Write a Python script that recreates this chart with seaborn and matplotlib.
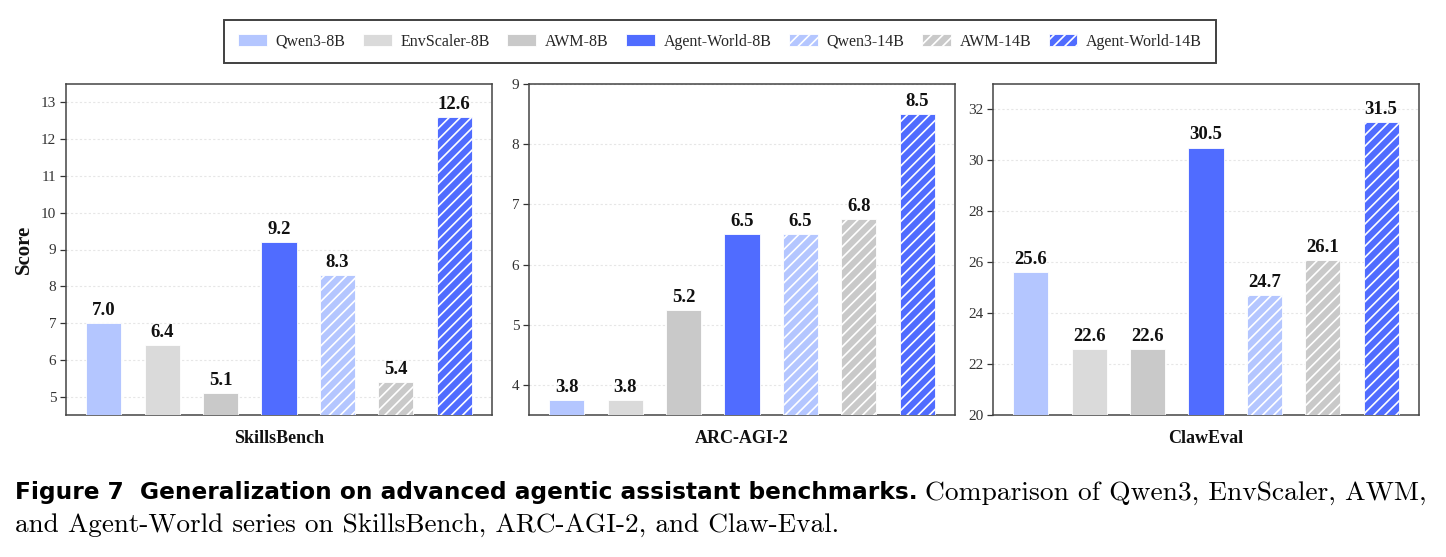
import matplotlib
matplotlib.use("Agg")
import matplotlib.pyplot as plt
from matplotlib.patches import Patch
import seaborn as sns
import pandas as pd

# ---------------- data ----------------
models = ["Qwen3-8B", "EnvScaler-8B", "AWM-8B", "Agent-World-8B",
          "Qwen3-14B", "AWM-14B", "Agent-World-14B"]
benchmarks = ["SkillsBench", "ARC-AGI-2", "ClawEval"]
skillsbench = [7.0, 6.4, 5.1, 9.2, 8.3, 5.4, 12.6]
arc_agi_2 = [3.75, 3.75, 5.25, 6.5, 6.5, 6.75, 8.5]
claweval = [25.6, 22.6, 22.6, 30.5, 24.7, 26.1, 31.5]
scores = [skillsbench, arc_agi_2, claweval]

colors = ["#b4c6ff", "#dadada", "#c9c9c9", "#506cff",
          "#b4c6ff", "#c9c9c9", "#506cff"]
hatches = ["", "", "", "", "///", "///", "///"]
ylims = [(4.5, 13.5), (3.5, 9.0), (20, 33)]
yticks = [list(range(5, 14)), list(range(4, 10)), list(range(20, 33, 2))]

rows = []
for b, vals in zip(benchmarks, scores):
    for m, v in zip(models, vals):
        rows.append({"benchmark": b, "model": m, "score": v})
df = pd.DataFrame(rows)

# ---------------- style ----------------
sns.set_theme(style="white")
plt.rcParams["font.family"] = ["Liberation Serif", "DejaVu Serif"]
plt.rcParams["hatch.linewidth"] = 1.2
plt.rcParams["hatch.color"] = "white"

W, H = 1446, 557
fig = plt.figure(figsize=(W / 100, H / 100), dpi=100)

lefts = [66, 529, 993]
ax_w = 426
top_px, bot_px = 84, 415
palette = dict(zip(models, colors))

for i, (b, left) in enumerate(zip(benchmarks, lefts)):
    ax = fig.add_axes([left / W, 1 - bot_px / H, ax_w / W, (bot_px - top_px) / H])
    sub = df[df["benchmark"] == b]
    sns.barplot(data=sub, x="model", y="score", hue="model", order=models,
                hue_order=models, palette=palette, saturation=1, width=0.6,
                legend=False, ax=ax, edgecolor="white", linewidth=0.6, zorder=3)
    for cont, h in zip(ax.containers, hatches):
        for p in cont:
            p.set_hatch(h)
        ax.bar_label(cont, fmt="%.1f", padding=3, fontsize=13.5,
                     fontweight="bold", color="#111111")
    ax.set_xlim(-0.65, 6.65)
    ax.set_ylim(*ylims[i])
    ax.set_yticks(yticks[i])
    ax.set_xticks([])
    ax.set_xlabel(b, fontsize=13, fontweight="bold", labelpad=11, color="#111111")
    if i == 0:
        ax.set_ylabel("Score", fontsize=15, fontweight="bold", labelpad=5, color="#111111")
    else:
        ax.set_ylabel("")
    ax.yaxis.grid(True, linestyle=(0, (2, 2)), color="#e6e6e6", linewidth=0.8, zorder=0)
    ax.set_axisbelow(True)
    ax.tick_params(axis="y", which="major", left=True, length=4, width=0.9,
                   color="#333333", labelsize=11, labelcolor="#333333", pad=3)
    for s in ax.spines.values():
        s.set_visible(True)
        s.set_color("#444444")
        s.set_linewidth(1.1)

handles = [Patch(facecolor=c, edgecolor="white", hatch=h, linewidth=0.6, label=m)
           for m, c, h in zip(models, colors, hatches)]
leg = fig.legend(handles=handles, loc="center", bbox_to_anchor=(720 / W, 1 - 41.5 / H),
                 ncol=7, fontsize=11.5, frameon=True, fancybox=False,
                 edgecolor="#111111", handlelength=1.8, handleheight=0.7,
                 columnspacing=1.1, handletextpad=0.55, borderpad=0.85,
                 borderaxespad=0)
leg.get_frame().set_linewidth(1.4)

# caption
renderer = fig.canvas.get_renderer()
bold_txt = "Figure 7  Generalization on advanced agentic assistant benchmarks."
t1 = fig.text(15 / W, 1 - 493 / H, bold_txt, fontsize=16, fontweight="bold",
              family=["DejaVu Sans"], va="center", ha="left", color="black")
bb = t1.get_window_extent(renderer=renderer)
t1.set_fontsize(16 * (916 - 15) / bb.width)
bb = t1.get_window_extent(renderer=renderer)
fig.text((bb.x1 + 7) / W, 1 - 493 / H,
         "Comparison of Qwen3, EnvScaler, AWM,",
         fontsize=19.8, family=["cmr10", "DejaVu Serif"], va="center", ha="left", color="black")
fig.text(15 / W, 1 - 525 / H,
         "and Agent-World series on SkillsBench, ARC-AGI-2, and Claw-Eval.",
         fontsize=19.6, family=["cmr10", "DejaVu Serif"], va="center", ha="left", color="black")

fig.savefig("out.png", dpi=100)
